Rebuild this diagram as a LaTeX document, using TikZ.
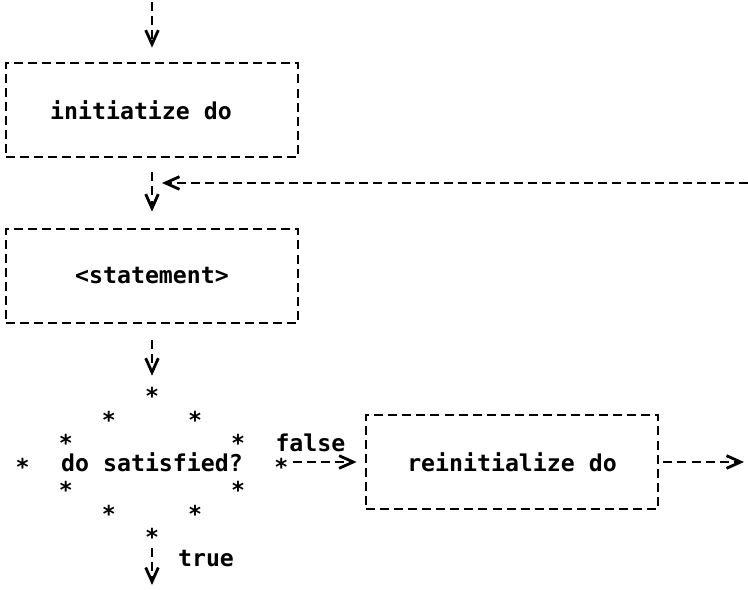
\documentclass[tikz,border=0pt]{standalone}
\usepackage{fontspec}
\setmonofont{DejaVu Sans Mono}
\usetikzlibrary{arrows.meta,calc,shapes.geometric}

\begin{document}
\begin{tikzpicture}
% Estilos
\tikzset{
  every node/.style={font=\ttfamily\bfseries\fontsize{16.5}{20}\selectfont},
  block/.style={rectangle, draw, dash pattern=on 6.4pt off 3.6pt, line width=2pt, minimum width=7.3cm, minimum height=2.35cm},
  test/.style={diamond, aspect=2.5, inner sep=0pt, minimum width=6.45cm, minimum height=3.5cm},
  star/.style={inner sep=0pt, yshift=-3.3pt},
  flow/.style={dash pattern=on 6.4pt off 3.6pt, line width=2pt, -{Straight Barb[length=10pt,width=9pt]}}
}
\useasboundingbox (0,0) rectangle (18.7,14.75);

% Blocos
\node[block] (init) at (3.8,12.0) {initiatize do\rule{0.55cm}{0pt}};
\node[block] (stmt) at (3.8,7.85) {<statement>};
\node[test] (sat) at (3.8,3.2) {do satisfied?};
\node[block] (reinit) at (12.8,3.2) {reinitialize do};

% Losango de asteriscos
\foreach \a/\b [count=\k] in {north/east,east/south,south/west,west/north}
  \foreach \t [count=\j] in {0,0.3333,0.6667}
    \node[star] (s\k\j) at ($(sat.\a)!\t!(sat.\b)$) {*};

% Pontas livres
\coordinate (entry) at (3.8,14.7);
\coordinate (back) at (18.7,10.175);
\coordinate (exit) at (3.8,0.125);
\coordinate (away) at (18.6,3.2);

% Ligacoes
\draw[flow, shorten >=0.35cm] (entry) -- (init);
\draw[flow, shorten <=0.35cm, shorten >=0.4cm] (init) -- (stmt);
\draw[flow, shorten >=0.25cm] (back) -- (back -| init.south);
\draw[flow, shorten <=0.4cm, shorten >=0.4cm] (stmt) -- (sat);
\draw[flow, shorten <=0.3cm, shorten >=0.2cm] (sat) -- node[above, pos=0.35, yshift=0.1cm] (no) {false} (reinit);
\draw[flow, shorten <=0.4cm] (sat) -- node[right, xshift=0.5cm] (yes) {true} (exit);
\draw[flow, shorten <=0.1cm] (reinit) -- (away);

\end{tikzpicture}
\end{document}
